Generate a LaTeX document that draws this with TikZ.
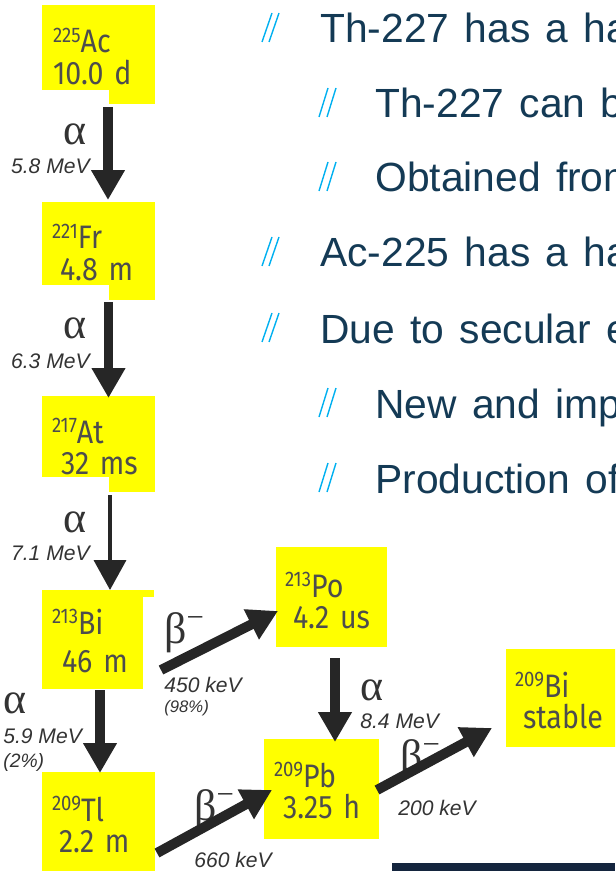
\documentclass[tikz,border=0pt]{standalone}
\usepackage{fontspec}
\usepackage{xcolor}
\usetikzlibrary{arrows.meta}
\setmainfont{Liberation Sans}
\newfontfamily\nucfamily[FakeStretch=0.88]{Fira Sans}
\newfontfamily\grkfamily{Liberation Serif}
\newfontfamily\bulfamily[WordSpace=1.35]{Liberation Sans}
\definecolor{nucyellow}{HTML}{FFFF00}
\definecolor{nucgray}{HTML}{4D4D4D}
\definecolor{decaygray}{HTML}{262626}
\definecolor{labelgray}{HTML}{333333}
\definecolor{bulletblue}{HTML}{00B0F0}
\definecolor{textnavy}{HTML}{143A55}
\definecolor{barnavy}{HTML}{14253E}
\newlength\pxl
\setlength\pxl{0.02cm}
\newcommand\nucl[2]{\raisebox{6pt}{\fontsize{12}{10}\selectfont #1}#2}

\tikzset{
  nuc/.style={fill=nucyellow, text=nucgray, anchor=north west, align=left,
    inner ysep=0pt, outer sep=0pt, font=\nucfamily\fontsize{18.5}{18.1}\selectfont},
  nucbox/.style n args={4}{inner xsep=#1\pxl, text width=#2\pxl,
    text height=#3\pxl, text depth=#4\pxl},
  decay/.style={draw=decaygray, line width=5.67pt,
    -{Triangle[width=18.1pt,length=17pt]}},
  greek/.style={text=labelgray, font=\grkfamily\fontsize{25}{25}\selectfont, inner sep=0pt},
  energy/.style={text=labelgray, font=\itshape\fontsize{12}{12}\selectfont, inner sep=0pt},
  bullet/.style={draw=bulletblue, line width=0.8pt},
  item/.style={text=textnavy, font=\bulfamily\fontsize{23.2}{26}\selectfont,
    anchor=base west, inner sep=0pt}
}

\begin{document}
\begin{tikzpicture}[x=\pxl, y=-\pxl]
  \useasboundingbox (0,0) rectangle (615,871);
  \clip (0,0) rectangle (615,871);

  % nuclides
  \node[nuc, nucbox={11}{91}{48}{37}] (ac) at (42,5) {\nucl{225}{Ac}\\10.0 d};
  \node[nuc, nucbox={10}{93}{47}{36}] (fr) at (42,202) {\nucl{221}{Fr}\\\hspace*{8\pxl}4.8 m};
  \node[nuc, nucbox={10}{93}{47}{34}] (at) at (42,396) {\nucl{217}{At}\\\hspace*{9\pxl}32 ms};
  \node[nuc, nucbox={10}{81}{44}{55}] (bi) at (42,590) {\nucl{213}{Bi}\\[7\pxl]\hspace*{10\pxl}46 m};
  \node[nuc, nucbox={10}{93}{49}{56}] (tl) at (42,772) {\nucl{209}{Tl}\\\hspace*{7\pxl}2.2 m};
  \node[nuc, nucbox={9}{93}{50}{50}] (po) at (276,547) {\nucl{213}{Po}\\\hspace*{8\pxl}4.2 us};
  \node[nuc, nucbox={10}{95}{48}{52}] (pb) at (264,739) {\nucl{209}{Pb}\\\hspace*{9\pxl}3.25 h};
  \node[nuc, nucbox={9}{97}{48}{50}] (bis) at (506,649) {\nucl{209}{Bi}\\\hspace*{8\pxl}stable};
  \fill[nucyellow] ([yshift=0.3pt]ac.south east) rectangle ++(-46,15);
  \fill[nucyellow] ([yshift=0.3pt]fr.south east) rectangle ++(-46,16);
  \fill[nucyellow] ([yshift=0.3pt]at.south east) rectangle ++(-46,16);
  \fill[nucyellow] ([xshift=-0.3pt]bi.north east) rectangle ++(12,7);

  % decay labels
  \node[greek, anchor=base] (a1) at (75.5,145) {α};
  \node[energy, anchor=base east] (e1) at (90,174) {5.8 MeV};
  \node[greek, anchor=base] (a2) at (75.5,338) {α};
  \node[energy, anchor=base east] (e2) at (90,368) {6.3 MeV};
  \node[greek, anchor=base] (a3) at (75.5,532) {α};
  \node[energy, anchor=base east] (e3) at (90,560) {7.1 MeV};
  \node[greek, anchor=base west] (a4) at (3,713) {α};
  \node[energy, anchor=base west] (e4) at (3,743) {5.9 MeV};
  \node[energy, anchor=base west, font=\itshape\fontsize{11}{11}\selectfont] (p4) at (3,767) {(2\%)};
  \node[greek, anchor=base west] (b1) at (164,643) {β\textsuperscript{−}};
  \node[energy, anchor=base west] (e5) at (164,692) {450 keV};
  \node[energy, anchor=base west, font=\itshape\fontsize{9.5}{10}\selectfont] (p5) at (164,712) {(98\%)};
  \node[greek, anchor=base west] (b2) at (194,820) {β\textsuperscript{−}};
  \node[energy, anchor=base west] (e6) at (194,867) {660 keV};
  \node[greek, anchor=base west] (a5) at (360,700) {α};
  \node[energy, anchor=base west] (e7) at (360,728) {8.4 MeV};
  \node[greek, anchor=base west] (b3) at (400,770) {β\textsuperscript{−}};
  \node[energy, anchor=base west] (e8) at (398,815) {200 keV};

  % decays
  \draw[decay] ([shift={(9.5,17)}]ac.south) -- ([shift={(9.5,-2)}]fr.north);
  \draw[decay] ([shift={(10,17)}]fr.south) -- ([shift={(10,2)}]at.north);
  \draw[decay, line width=2.3pt] ([shift={(11.5,18)}]at.south) -- ([shift={(17.5,0)}]bi.north);
  \draw[decay] ([shift={(7.5,1)}]bi.south) -- ([shift={(1.5,1)}]tl.north);
  \draw[decay] ([shift={(18,30.5)}]bi.east) -- ([shift={(2,14)}]po.west);
  \draw[decay] ([shift={(2,28.5)}]tl.east) -- ([shift={(8,1)}]pb.west);
  \draw[decay] ([shift={(3.5,11)}]po.south) -- ([shift={(13.5,3)}]pb.north);
  \draw[decay] ([shift={(-2,1)}]pb.east) -- ([shift={(-14,30)}]bis.west);

  % bullet list
  \foreach \y in {43,267,343}{
    \draw[bullet] (262,\y-1) -- (272,\y-30);
    \draw[bullet] (269,\y-1) -- (279,\y-30);
  }
  \foreach \y in {118,192,418,493}{
    \draw[bullet] (319,\y-1) -- (328,\y-30);
    \draw[bullet] (327,\y-1) -- (336,\y-30);
  }
  \node[item] (t1) at (320,43) {Th-227 has a ha};
  \node[item] (t2) at (375,118) {Th-227 can b};
  \node[item] (t3) at (375,192) {Obtained from};
  \node[item] (t4) at (320,267) {Ac-225 has a ha};
  \node[item] (t5) at (320,343) {Due to secular e};
  \node[item] (t6) at (375,418) {New and imp};
  \node[item] (t7) at (375,493) {Production of};

  \fill[barnavy] (392,863) rectangle (615,871);
\end{tikzpicture}
\end{document}
